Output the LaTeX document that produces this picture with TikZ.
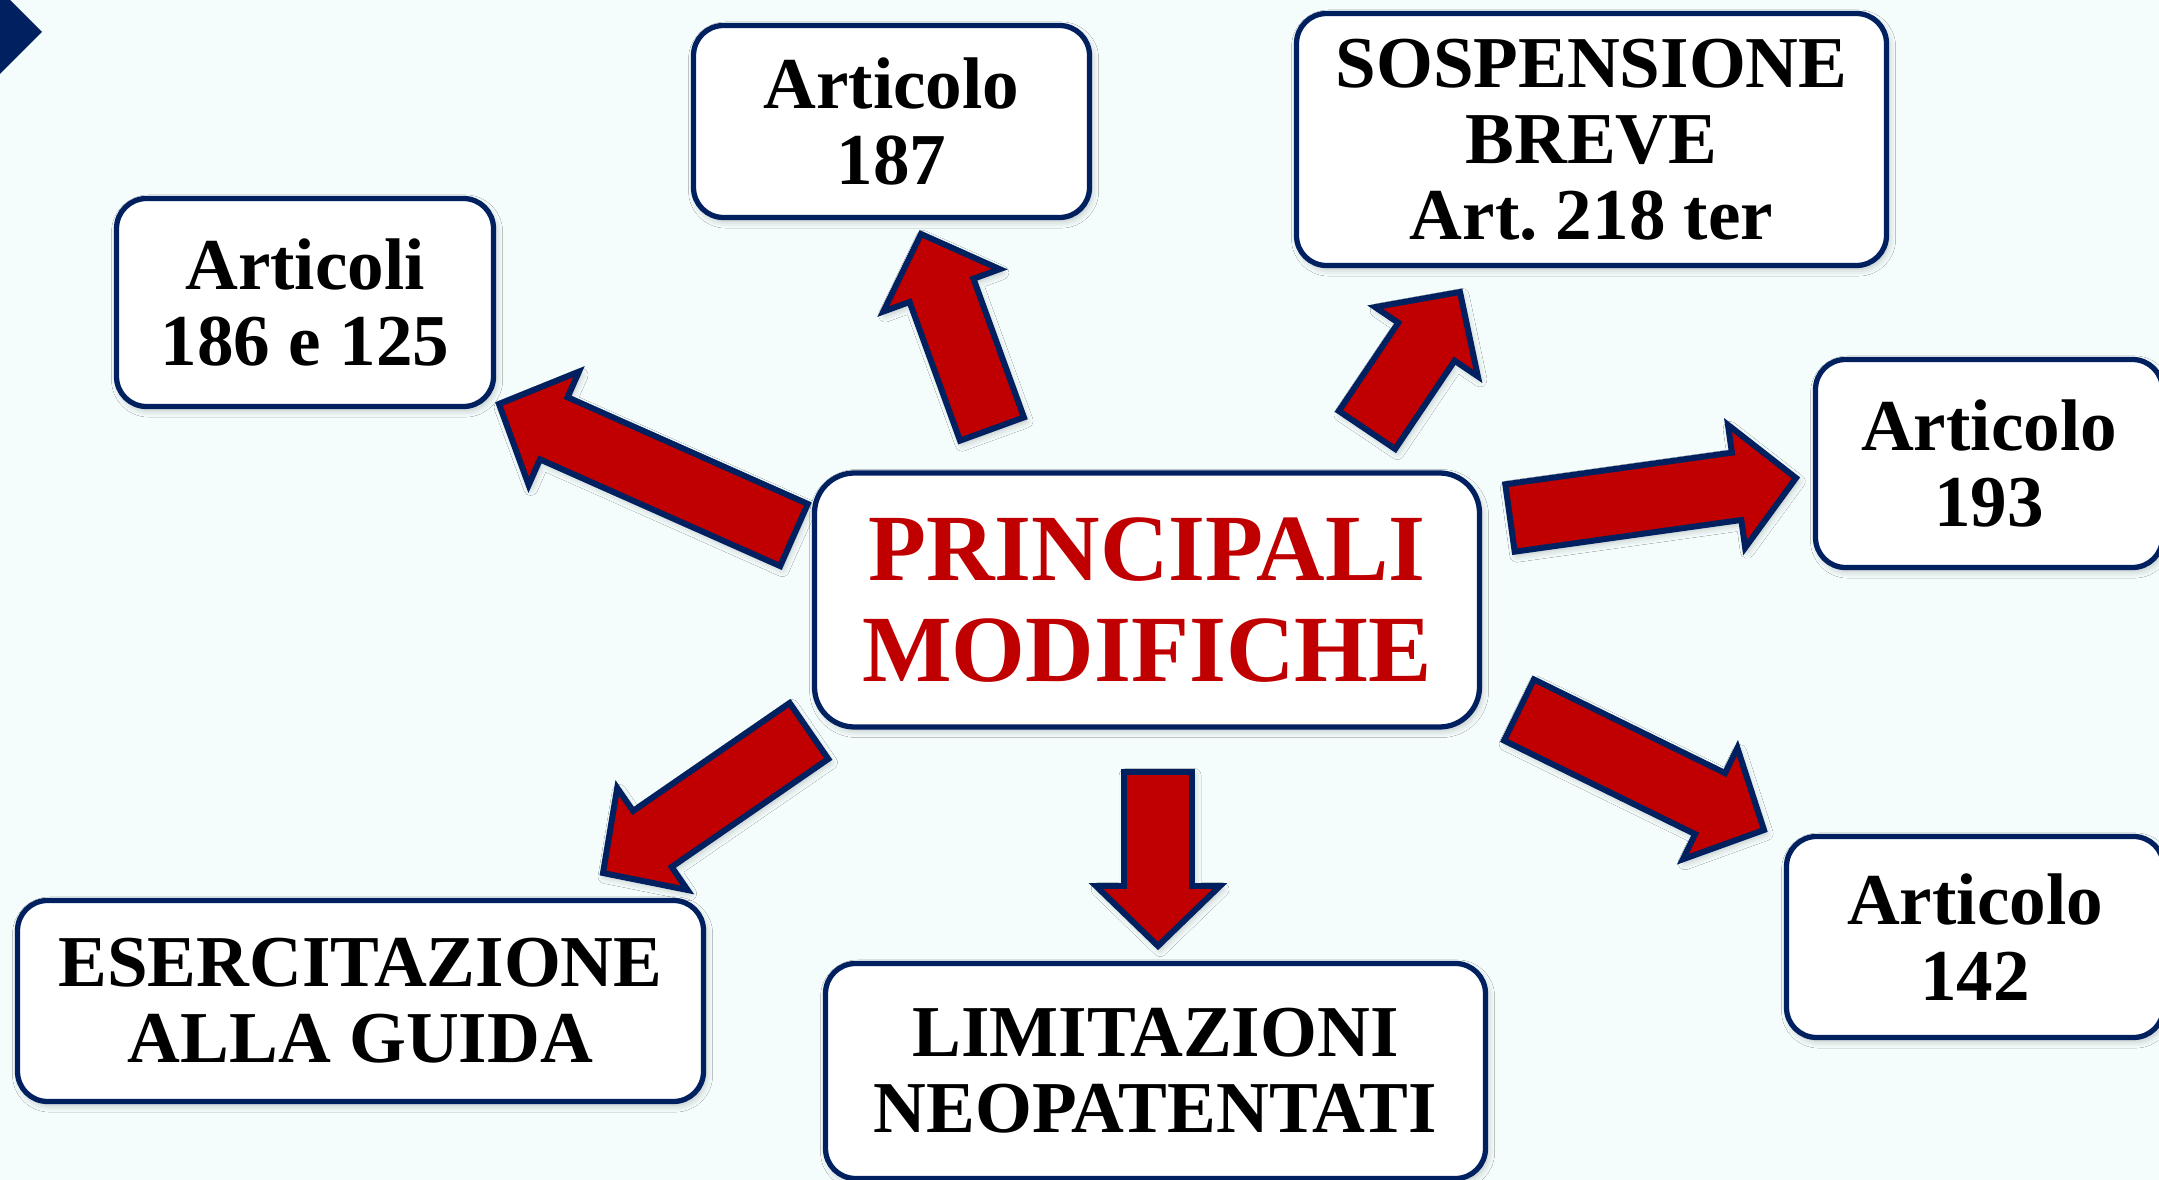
\documentclass[tikz,border=0pt]{standalone}
\usepackage{fontspec}
\setmainfont{Liberation Serif}
\usepackage{xcolor}
\usetikzlibrary{positioning, calc, shadows.blur}
\definecolor{navy}{HTML}{002060}
\definecolor{rosso}{HTML}{C00000}
\definecolor{sfondo}{RGB}{244,252,252}
\frenchspacing
\tikzset{
    box/.style={draw=navy, line width=1.5pt, fill=white, rounded corners=3mm, align=center, inner sep=0pt,
        font=\fontsize{20.8}{21.6}\selectfont\bfseries,
        blur shadow={shadow xshift=0.6pt, shadow yshift=-1pt, shadow blur radius=2pt, shadow opacity=25}}, % riquadri
    titlebox/.style={box, rounded corners=4mm, text=rosso, font=\fontsize{27}{28.5}\selectfont\bfseries},
    bigarrow/.style={draw=navy, line width=1.7pt, fill=rosso, line join=miter,
        blur shadow={shadow xshift=0.6pt, shadow yshift=-1pt, shadow blur radius=2pt, shadow opacity=25}}, % frecce
}
% freccia a blocco da #1 (coda) a #2 (punta)
\newcommand{\blockarrow}[2]{%
    \coordinate (hb) at ($(#2)!6mm!(#1)$);
    \draw[bigarrow] ($(#1)!3.4mm!90:(#2)$) -- ($(hb)!3.4mm!90:(#2)$) -- ($(hb)!6.2mm!90:(#2)$) -- (#2)
        -- ($(hb)!6.2mm!-90:(#2)$) -- ($(hb)!3.4mm!-90:(#2)$) -- ($(#1)!3.4mm!-90:(#2)$) -- cycle;
}

\begin{document}
\begin{tikzpicture}[x=0.1mm, y=-0.1mm, on grid]
    \useasboundingbox (0,0) rectangle (2159,1180);
    \fill[sfondo] (0,0) rectangle (2159,1180);
    \fill[navy] (0,0) -- (10,0) -- (42,32) -- (0,74) -- cycle;

    % Frecce
    \coordinate (c1) at (794,535);  \coordinate (p1) at (499,404);
    \coordinate (c2) at (992,429);  \coordinate (p2) at (921,234);
    \coordinate (c3) at (1367,430); \coordinate (p3) at (1460,292);
    \coordinate (c4) at (1510,518); \coordinate (p4) at (1796,478);
    \coordinate (c5) at (1519,710); \coordinate (p5) at (1764,830);
    \coordinate (c6) at (1158,772); \coordinate (p6) at (1158,946);
    \coordinate (c7) at (809,731);  \coordinate (p7) at (603,873);
    \foreach \i in {1,...,7} {\blockarrow{c\i}{p\i}}

    % Nodi
    \node[titlebox, minimum width=6.65cm, minimum height=2.54cm] (main) at (1147,600) {PRINCIPALI\\MODIFICHE};
    \node[box, minimum width=3.77cm, minimum height=2.08cm] (art186) [above left=2.975cm and 8.42cm of main] {Articoli\\186 e 125};
    \node[box, minimum width=3.96cm, minimum height=1.92cm] (art187) [above left=4.785cm and 2.555cm of main] {Articolo\\187};
    \node[box, minimum width=5.9cm, minimum height=2.52cm] (sosp) [above right=4.605cm and 4.445cm of main] {SOSPENSIONE\\BREVE\\Art. 218 ter};
    \node[box, minimum width=3.47cm, minimum height=2.08cm] (art193) [above right=1.365cm and 8.42cm of main] {Articolo\\193};
    \node[box, minimum width=3.77cm, minimum height=2.01cm] (art142) [below right=3.37cm and 8.28cm of main] {Articolo\\142};
    \node[box, minimum width=6.6cm, minimum height=2.15cm] (neo) [below right=4.71cm and 0.085cm of main] {LIMITAZIONI\\NEOPATENTATI};
    \node[box, minimum width=6.86cm, minimum height=2.01cm] (guida) [below left=4.01cm and 7.865cm of main] {ESERCITAZIONE\\ALLA GUIDA};
\end{tikzpicture}
\end{document}
